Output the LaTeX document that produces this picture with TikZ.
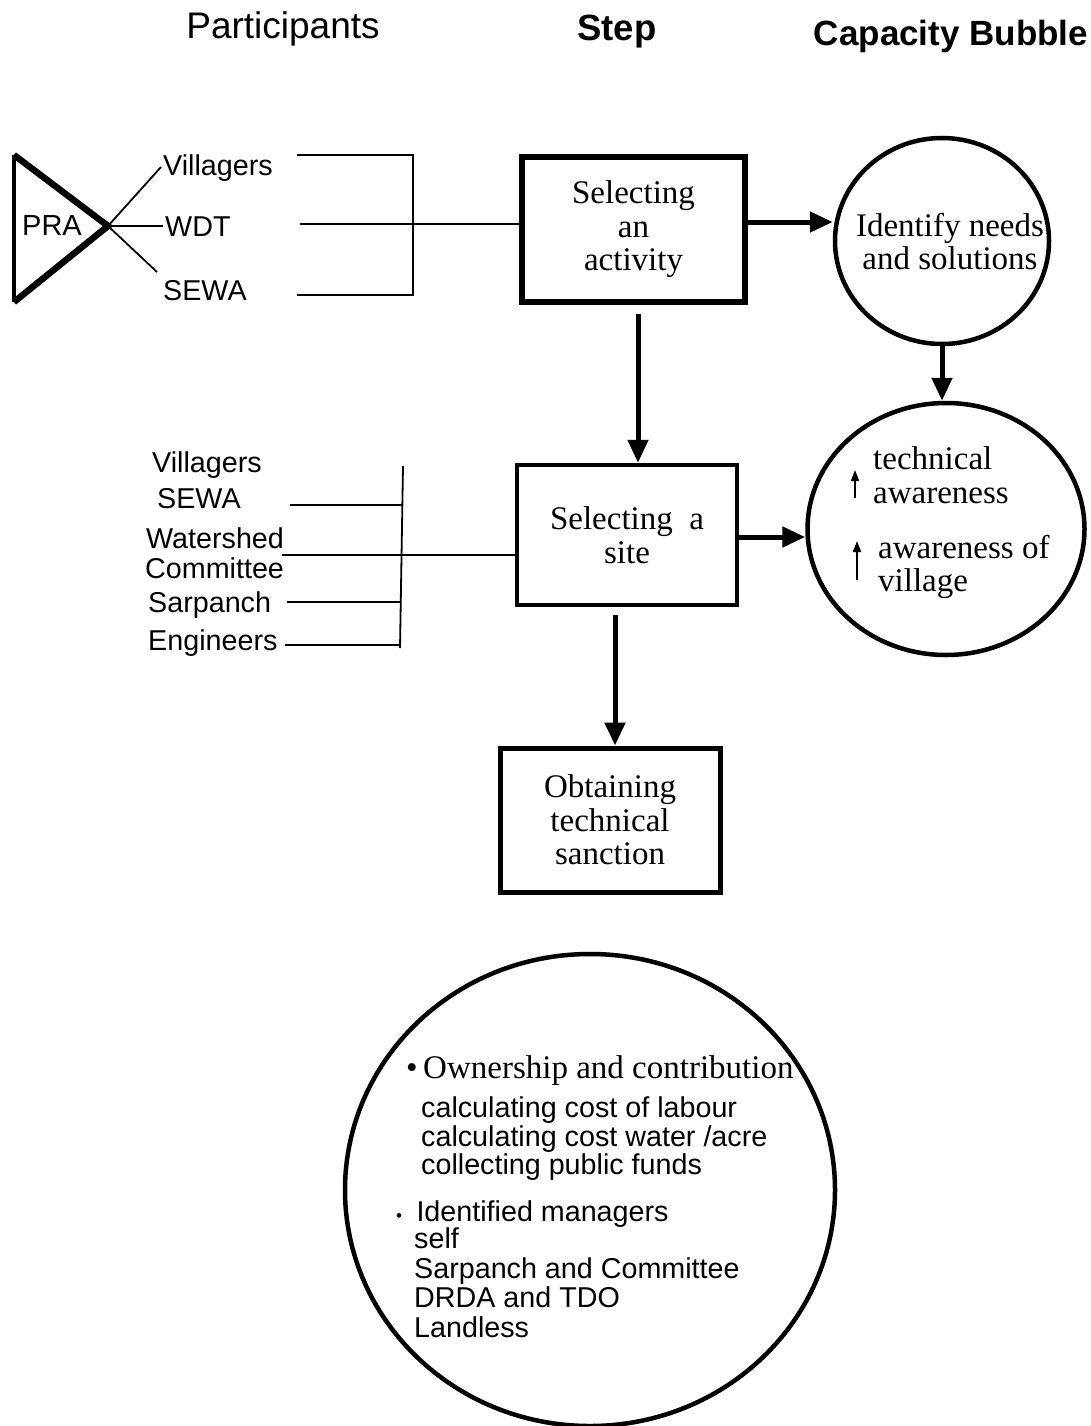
\documentclass[tikz,border=0pt]{standalone}
\usepackage{fontspec}
\setmainfont{Liberation Serif}
\setsansfont{Liberation Sans}
\usetikzlibrary{arrows.meta,shapes.geometric}

\begin{document}
\begin{tikzpicture}[x=1pt,y=-1pt,
  sans/.style={font=\fontsize{28.7}{29}\selectfont\sffamily, inner sep=0pt, anchor=base west},
  head/.style={font=\fontsize{37}{40}\selectfont\sffamily, inner sep=0pt, anchor=base},
  headb/.style={font=\fontsize{35}{40}\selectfont\sffamily\bfseries, inner sep=0pt, anchor=base},
  serif/.style={font=\fontsize{33}{33.5}\selectfont\rmfamily, inner sep=0pt, align=center},
  stepbox/.style={draw, line width=5pt, serif},
  bubble/.style={draw, ellipse, line width=4.5pt, inner sep=0pt},
  link/.style={line width=1.8pt},
  flow/.style={line width=5pt, -{Triangle[length=23pt,width=20pt]}},
  up/.style={line width=1.8pt, -{Triangle[length=11pt,width=8pt]}},
]
\useasboundingbox (0,0) rectangle (1091,1426);

% column headings
\node[head]  (hpart) at (283,39) {Participants};
\node[headb, font=\fontsize{36.5}{40}\selectfont\sffamily\bfseries] (hstep) at (617,41) {Step};
\node[headb] (hcap)  at (951,46) {Capacity Bubble};

% PRA triangle and its three participants
\coordinate (apex) at (108,226);
\coordinate (tl) at (14,155);
\coordinate (bl) at (14,302);
\draw[line width=6.5pt, line join=miter] (tl) -- (apex) -- (bl);
\draw[line width=4.5pt] (bl) -- (tl);
\node[sans, font=\fontsize{29}{29}\selectfont\sffamily] (pra) at (22,235) {PRA};
\node[sans] (v1) at (163,175) {Villagers};
\node[sans] (w1) at (165,236) {WDT};
\node[sans] (s1) at (163,300) {SEWA};
\coordinate (v1e) at (161,167);
\coordinate (w1e) at (163,226);
\coordinate (s1e) at (157,272);
\draw[link] (apex) -- (v1e);
\draw[link] (apex) -- (w1e);
\draw[link] (apex) -- (s1e);

% step boxes
\node[stepbox, line width=5.5pt, minimum width=223pt, minimum height=145pt] (box1) at (633.5,229.5)
  {Selecting\\an\\activity};
\node[stepbox, line width=4.5pt, minimum width=220pt, minimum height=140pt] (box2) at (627,535)
  {Selecting\enspace a\\site};
\node[stepbox, minimum width=220pt, minimum height=144pt] (box3) at (610,820)
  {Obtaining\\technical\\sanction};

% bracket joining the first participants to the first step
\coordinate (b1t) at (297,155);
\coordinate (b1c) at (300,224);
\coordinate (b1b) at (297,295);
\coordinate (b1x) at (413,0);
\draw[link] (b1t) -- (b1t -| b1x) -- (b1b -| b1x) -- (b1b);
\draw[link] (b1c) -- (b1c -| box1.west);

% second group of participants
\node[sans] (v2)  at (152,472) {Villagers};
\node[sans] (s2)  at (157,508) {SEWA};
\node[sans] (ws2) at (146,548) {Watershed};
\node[sans] (cm2) at (145,578) {Committee};
\node[sans] (sp2) at (148,612) {Sarpanch};
\node[sans] (en2) at (148,650) {Engineers};

\coordinate (g2t) at (403,466);
\coordinate (g2b) at (400,648);
\coordinate (l2s) at (290,505);
\coordinate (l2w) at (282,555);
\coordinate (l2p) at (287,602);
\coordinate (l2e) at (285,645);
\draw[link] (g2t) -- (g2b);
\draw[link] (l2s) -- (l2s -| g2t);
\draw[link] (l2w) -- (l2w -| box2.west);
\draw[link] (l2p) -- (l2p -| g2b);
\draw[link] (l2e) -- (l2e -| g2b);

% capacity bubbles
\node[bubble, minimum width=214pt, minimum height=206pt] (c1) at (942,241) {};
\node[serif] (c1t) at (950,241.5) {Identify needs\\and solutions};

\node[bubble, minimum width=277pt, minimum height=252pt] (c2) at (946,529) {};
\node[serif, align=left, anchor=west] (c2a) at (873,475) {technical\\awareness};
\node[serif, align=left, anchor=west] (c2b) at (878,567) {awareness of\\village};
\coordinate (u1b) at (855,498);
\coordinate (u1t) at (855,470);
\coordinate (u2b) at (857,580);
\coordinate (u2t) at (857,541);
\draw[up] (u1b) -- (u1t);
\draw[up] (u2b) -- (u2t);

% flow arrows
\coordinate (r1) at (0,222);
\draw[flow] (box1.east |- r1) -- (c1.west |- r1);
\draw[flow] (c1.south) -- (c1.south |- c2.north);
\coordinate (d1) at (638,0);
\draw[flow, shorten <=9pt] (box1.south -| d1) -- (box2.north -| d1);
\coordinate (r2) at (0,537);
\draw[flow] (box2.east |- r2) -- (c2.west |- r2);
\coordinate (d2) at (615,0);
\draw[flow, shorten <=8pt] (box2.south -| d2) -- (box3.north -| d2);

% large bubble of outcomes
\node[bubble, minimum width=490pt, minimum height=472pt] (c3) at (590,1190) {};
\node[serif, anchor=base west] (own) at (406,1078) {\textbullet\,Ownership and contribution};
\node[sans] (o1) at (421,1117) {calculating cost of labour};
\node[sans] (o2) at (421,1146) {calculating cost water /acre};
\node[sans] (o3) at (421,1174) {collecting public funds};
\node[sans] (idm) at (396,1221) {{\fontsize{17}{17}\selectfont\textbullet}\enspace Identified managers};
\node[sans] (m1) at (414,1248) {self};
\node[sans] (m2) at (414,1278) {Sarpanch and Committee};
\node[sans] (m3) at (414,1307) {DRDA and TDO};
\node[sans] (m4) at (414,1337) {Landless};
\end{tikzpicture}
\end{document}
